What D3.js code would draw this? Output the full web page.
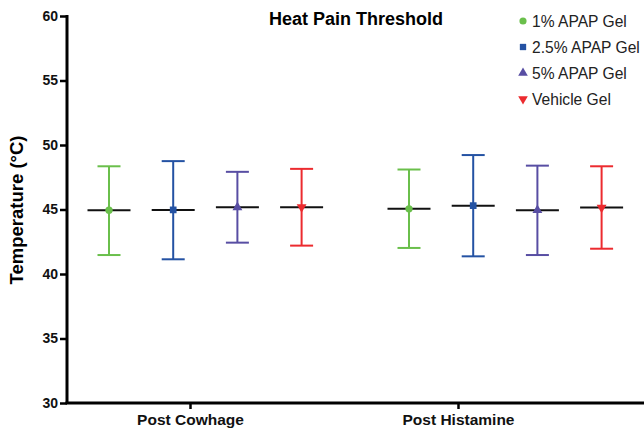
<!DOCTYPE html>
<html>
<head>
  <meta charset="utf-8">
  <script src="https://cdn.jsdelivr.net/npm/d3@7"></script>
  <style>
    body { margin: 0; background: #fff; }
    text { font-family: "Liberation Sans", Arial, sans-serif; }
  </style>
</head>
<body>
<script>
  // groups on the x axis
  var groups = ["Post Cowhage", "Post Histamine"];
  // series (legend order)
  var seriesNames = ["1% APAP Gel", "2.5% APAP Gel", "5% APAP Gel", "Vehicle Gel"];
  var seriesColors = ["#6abf4b", "#2452a3", "#584ea3", "#ec2b2f"];
  var seriesSymbols = [d3.symbolCircle, d3.symbolSquare, d3.symbolTriangle, "down"];
  // mean values per series, one value per group
  var meanVals = [[44.95, 45.05], [44.97, 45.3], [45.17, 44.95], [45.18, 45.15]];
  var upperVals = [[48.35, 48.1], [48.75, 49.22], [47.92, 48.4], [48.15, 48.35]];
  var lowerVals = [[41.47, 42.02], [41.14, 41.37], [42.43, 41.47], [42.2, 41.96]];
  var yTicks = [30, 35, 40, 45, 50, 55, 60];

  var width = 644, height = 435;
  var svg = d3.select("body").append("svg")
    .attr("width", width)
    .attr("height", height);

  var plotLeft = 67, plotTop = 16, plotBottom = 403;

  var y = d3.scaleLinear().domain([30, 60]).range([plotBottom, plotTop]);
  // tick positions of the two groups
  var xGroup = d3.scalePoint().domain(groups).range([190, 458]);
  // first point of each group and spacing between series
  var groupStart = d3.scalePoint().domain(groups).range([109, 409]);
  var step = 64.2;
  function px(g, s) { return groupStart(groups[g]) + s * step; }

  // title
  svg.append("text")
    .attr("x", 356).attr("y", 25)
    .attr("text-anchor", "middle")
    .style("font-weight", "bold").style("font-size", "18px")
    .text("Heat Pain Threshold");

  // y axis
  var yAxis = svg.append("g")
    .attr("transform", "translate(" + plotLeft + ",0)")
    .call(d3.axisLeft(y).tickValues(yTicks).tickSize(7).tickPadding(2));
  yAxis.select(".domain").attr("stroke-width", 3).attr("d", "M0," + (plotTop - 1) + "V" + (plotBottom + 1));
  yAxis.selectAll(".tick line").attr("stroke-width", 2.5);
  yAxis.selectAll(".tick text")
    .style("font-weight", "bold").style("font-size", "14px")
    .style("font-family", "'Liberation Sans', Arial, sans-serif")
    .attr("fill", "#111");

  // x axis
  var xAxis = svg.append("g")
    .attr("transform", "translate(0," + plotBottom + ")")
    .call(d3.axisBottom(xGroup).tickSize(6).tickPadding(5));
  xAxis.select(".domain").attr("stroke-width", 3).attr("d", "M" + (plotLeft - 1.5) + ",0H" + width);
  xAxis.selectAll(".tick line").attr("stroke-width", 2.5);
  xAxis.selectAll(".tick text")
    .style("font-weight", "bold").style("font-size", "15.5px")
    .style("font-family", "'Liberation Sans', Arial, sans-serif")
    .attr("fill", "#111");

  // y label
  svg.append("text")
    .attr("transform", "translate(23," + 210 + ") rotate(-90)")
    .attr("text-anchor", "middle")
    .style("font-weight", "bold").style("font-size", "18.5px")
    .text("Temperature (°C)");

  function symbolPath(sym, size) {
    if (sym === "down") {
      return d3.symbol().type(d3.symbolTriangle).size(size)();
    }
    return d3.symbol().type(sym).size(size)();
  }

  // error bars
  seriesNames.forEach(function(name, s) {
    var col = seriesColors[s];
    var gSeries = svg.append("g");
    groups.forEach(function(grp, g) {
      var cx = px(g, s);
      var yt = y(upperVals[s][g]), yb = y(lowerVals[s][g]), ym = y(meanVals[s][g]);
      gSeries.append("line").attr("x1", cx).attr("x2", cx).attr("y1", yt).attr("y2", yb)
        .attr("stroke", col).attr("stroke-width", 2);
      gSeries.append("line").attr("x1", cx - 11.5).attr("x2", cx + 11.5).attr("y1", yt).attr("y2", yt)
        .attr("stroke", col).attr("stroke-width", 2);
      gSeries.append("line").attr("x1", cx - 11.5).attr("x2", cx + 11.5).attr("y1", yb).attr("y2", yb)
        .attr("stroke", col).attr("stroke-width", 2);
      gSeries.append("line").attr("x1", cx - 21.5).attr("x2", cx + 21.5).attr("y1", ym).attr("y2", ym)
        .attr("stroke", "#111").attr("stroke-width", 2);
      var sz = s === 1 ? 45 : 42;
      gSeries.append("path")
        .attr("d", symbolPath(seriesSymbols[s], sz))
        .attr("transform", "translate(" + cx + "," + ym + ")" + (seriesSymbols[s] === "down" ? " rotate(180)" : ""))
        .attr("fill", col);
    });
  });

  // legend
  var legend = svg.append("g");
  var legY = [21, 47, 73, 99];
  seriesNames.forEach(function(name, s) {
    var ly = legY[s];
    legend.append("path")
      .attr("d", symbolPath(seriesSymbols[s], 40))
      .attr("transform", "translate(523," + ly + ")" + (seriesSymbols[s] === "down" ? " rotate(180)" : ""))
      .attr("fill", seriesColors[s]);
    legend.append("text")
      .attr("x", 532).attr("y", ly + 6)
      .style("font-size", "15.6px").attr("fill", "#222")
      .text(name);
  });
</script>
</body>
</html>
